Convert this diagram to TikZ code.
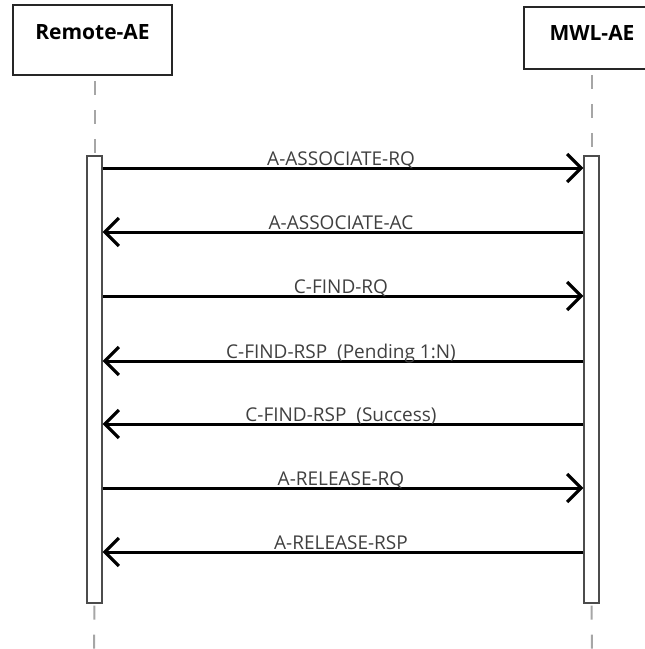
\documentclass[tikz,border=0pt]{standalone}
\usepackage{fontspec}
\setmainfont{Open Sans}
\usetikzlibrary{arrows.meta}

\tikzset{
  actor/.style={draw=black!85, line width=1.6pt, fill=white, inner sep=0pt,
    font=\bfseries\fontsize{21}{24}\selectfont},
  activebar/.style={draw=black!70, line width=1.2pt, fill=white, inner sep=0pt,
    minimum width=15pt, minimum height=447pt},
  lifeline/.style={draw=black!35, line width=2pt, dash pattern=on 14pt off 15pt},
  msg/.style={line width=3pt, -{Straight Barb[length=14pt,width=28pt,line width=3.2pt]}},
  msglabel/.style={text=black!75, anchor=base, inner sep=0pt,
    font=\fontsize{19}{21}\selectfont}
}

\begin{document}
\begin{tikzpicture}[x=1pt,y=-1pt]
  \useasboundingbox (0,0) rectangle (645,649);
  \clip (0,0) rectangle (645,649);

  % participants
  \node[actor, minimum width=159pt, minimum height=70pt, text height=15pt, text depth=16pt]
    (remote) at (92.5,40) {Remote-AE};
  \node[actor, minimum width=136pt, minimum height=62pt, text height=15pt, text depth=11pt]
    (mwl) at (592,38) {MWL-AE};

  % activation bars
  \node[activebar] (ra) at (94.5,379.5) {};
  \node[activebar] (ma) at (591.5,379.5) {};

  % life lines
  \coordinate (rend) at (94,649);
  \coordinate (mend) at (592,649);
  \draw[lifeline, shorten <=5pt] (remote.south -| ra.north) -- (ra.north);
  \draw[lifeline, shorten <=5pt] (mwl.south -| ma.north) -- (ma.north);
  \draw[lifeline, shorten <=2pt] (ra.south) -- (rend);
  \draw[lifeline, shorten <=2pt] (ma.south) -- (mend);

  % messages
  \foreach \y/\from/\to/\txt [count=\i] in {
      168/ra.east/ma.west/A-ASSOCIATE-RQ,
      232/ma.west/ra.east/A-ASSOCIATE-AC,
      296/ra.east/ma.west/C-FIND-RQ,
      361/ma.west/ra.east/{C-FIND-RSP~ (Pending 1:N)},
      424/ma.west/ra.east/{C-FIND-RSP~ (Success)},
      488/ra.east/ma.west/A-RELEASE-RQ,
      552/ma.west/ra.east/A-RELEASE-RSP}{
    \coordinate (y\i) at (0,\y);
    \draw[msg] (\from |- y\i) -- (\to |- y\i);
    \node[msglabel] (lbl\i) at (341,\y-3) {\txt};
  }
\end{tikzpicture}
\end{document}
